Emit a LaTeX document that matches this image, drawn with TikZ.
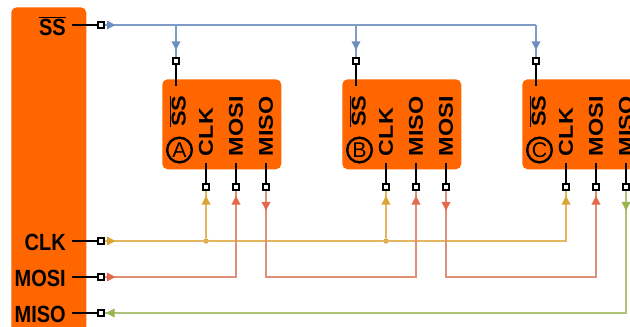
\documentclass[tikz,border=0pt]{standalone}
\usepackage{fontspec}
\setmainfont{Liberation Sans}
\usetikzlibrary{arrows.meta,decorations.markings}

\definecolor{chiporange}{HTML}{FF6600}
\definecolor{ssline}{HTML}{7F9CC6}
\definecolor{sstip}{HTML}{6C8EBF}
\definecolor{clkline}{HTML}{E3B65F}
\definecolor{clktip}{HTML}{D9A336}
\definecolor{mosiline}{HTML}{DE9078}
\definecolor{mositip}{HTML}{E2694A}
\definecolor{misoline}{HTML}{AEC27A}
\definecolor{misotip}{HTML}{97B54C}

\newcommand{\barss}{$\overline{\hbox{SS}}$}
\newcommand{\tallname}[1]{\scalebox{1}[1.17]{#1}}
\newcommand{\longname}[1]{\scalebox{1.17}[1]{#1}}

\begin{document}
\begin{tikzpicture}[
    x=0.75pt, y=-0.75pt,
    chip/.style={draw=none, fill=chiporange, rounded corners=4pt, inner sep=0pt},
    pad/.style={rectangle, draw=black, fill=white, line width=1.3pt, minimum size=4pt, inner sep=0pt},
    mainlabel/.style={anchor=east, inner sep=4.5pt, font=\bfseries\fontsize{15}{15}\selectfont},
    pinlabel/.style={rotate=90, anchor=west, inner sep=5pt, font=\bfseries\fontsize{15}{15}\selectfont},
    stub/.style={draw=black, line width=1.2pt},
    wire/.style={line width=1.1pt},
    tipat/.style 2 args={postaction={decorate, decoration={markings,
        mark=at position #1 with {\arrow{Triangle[length=6.5pt, width=6.5pt, color=#2]}}}}},
    joint/.style={circle, fill=clktip, minimum size=4pt, inner sep=0pt},
    tag/.style={circle, draw=black, line width=1.8pt, minimum size=18.5pt, inner sep=0pt, font=\fontsize{16}{16}\selectfont}
]
\clip[use as bounding box] (0,0) rectangle (630,326);

% master
\node[chip, minimum width=56.25pt, minimum height=260pt, anchor=north west] (master) at (11,7) {};
\node[mainlabel] (ssname) at (72,26) {\tallname{\barss}};
\node[mainlabel] (clkname) at (72,242) {\tallname{CLK}};
\node[mainlabel] (mosiname) at (72,278) {\tallname{MOSI}};
\node[mainlabel] (misoname) at (72,314) {\tallname{MISO}};
\foreach \s/\y in {ss/25, clk/241, mosi/277, miso/313} {
    \node[pad] (\s pad) at (101,\y) {};
    \draw[stub] (\s name.east |- \s pad) -- (\s pad);
}

% slaves, pin order differs on B
\foreach \n/\t/\x/\p/\q/\r/\v in {a/A/162/mosi/miso/MOSI/MISO, b/B/342/miso/mosi/MISO/MOSI, c/C/522/mosi/miso/MOSI/MISO} {
    \node[chip, minimum width=89.25pt, minimum height=67.5pt, anchor=north west] (\n) at (\x,79) {};
    \node[pad] (\n sspad) at (\x+14,61) {};
    \coordinate (\n ssend) at (\x+14,86);
    \coordinate (\n ssjoin) at (\x+14,25);
    \node[pad] (\n clkpad) at (\x+44,187) {};
    \node[pad] (\n\p pad) at (\x+74,187) {};
    \node[pad] (\n\q pad) at (\x+104,187) {};
    \node[pinlabel, inner sep=3pt] (\n ssname) at (\x+15.5,131) {\longname{\barss}};
    \node[pinlabel] (\n clkname) at (\x+44,163) {\longname{CLK}};
    \node[pinlabel] (\n\p name) at (\x+74,163) {\longname{\r}};
    \node[pinlabel] (\n\q name) at (\x+104,163) {\longname{\v}};
    \node[tag] (\n tag) at (\x+17.5,150) {\t};
    \draw[stub] (\n sspad) -- (\n ssend);
    \draw[stub] (\n clkname.west) -- (\n clkpad);
    \draw[stub] (\n\p name.west) -- (\n\p pad);
    \draw[stub] (\n\q name.west) -- (\n\q pad);
    % slave select drop
    \draw[wire, ssline, tipat={-5.6pt}{sstip}] (\n ssjoin) -- (\n sspad);
}

% select bus
\draw[wire, ssline, tipat={8.2pt}{sstip}] (sspad) -- (cssjoin);

% clock
\node[joint] (ajoint) at (206,241) {};
\node[joint] (bjoint) at (386,241) {};
\draw[wire, clkline, tipat={8.2pt}{clktip}, tipat={-4pt}{clktip}] (clkpad) -| (cclkpad);
\draw[wire, clkline, tipat={-4pt}{clktip}] (ajoint) -- (aclkpad);
\draw[wire, clkline, tipat={-4pt}{clktip}] (bjoint) -- (bclkpad);

% mosi and the daisy chain
\draw[wire, mosiline, tipat={8.2pt}{mositip}, tipat={-4pt}{mositip}] (mosipad) -| (amosipad);
\draw[wire, mosiline, tipat={15pt}{mositip}, tipat={-4pt}{mositip}] (amisopad) |- ++(75,90) -| (bmisopad);
\draw[wire, mosiline, tipat={15pt}{mositip}, tipat={-4pt}{mositip}] (bmosipad) |- ++(75,90) -| (cmosipad);

% miso back to master
\draw[wire, misoline, tipat={15pt}{misotip}, tipat={-1.1pt}{misotip}] (cmisopad) |- (misopad);

\end{tikzpicture}
\end{document}
